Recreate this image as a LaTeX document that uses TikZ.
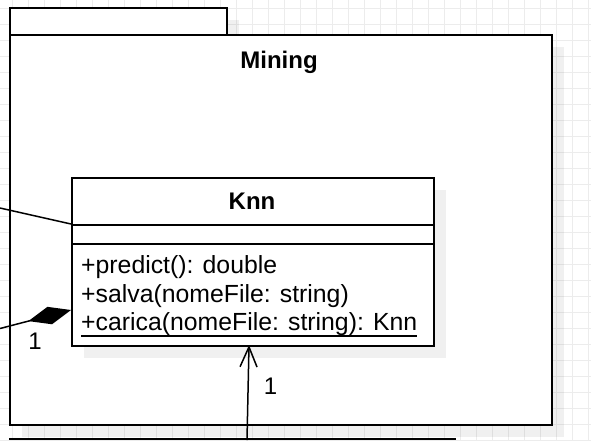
\documentclass[tikz,border=0pt]{standalone}
\usepackage{fontspec}
\setmainfont{Liberation Sans}
\usepackage{tikz}
\usetikzlibrary{arrows.meta}
\definecolor{gridgray}{RGB}{236, 236, 236}
\definecolor{shadowgray}{RGB}{240, 240, 240}

\begin{document}
\begin{tikzpicture}[x=1pt, y=-1pt,
    gridline/.style={gridgray, line width=1pt},
    umlshadow/.style={fill=black, fill opacity=0.06, draw=none},
    umlbox/.style={draw=black, fill=white, line width=1.8pt, inner sep=0pt, anchor=north west},
    umlline/.style={black, line width=1.5pt},
    plaintext/.style={inner sep=0pt, anchor=base west, font=\fontsize{24.8}{29}\selectfont},
    multtext/.style={inner sep=0pt, anchor=base, font=\fontsize{24}{28}\selectfont},
    titletext/.style={inner sep=0pt, anchor=base, font=\fontsize{24}{28}\selectfont\bfseries}]
            \useasboundingbox[fill=white] (0,0) rectangle (591,440);
            % background grid
            \foreach \i in {0,...,36}
                \draw[gridline] ({12.7+16*\i},0) -- ++(0,440);
            \foreach \j in {0,...,27}
                \draw[gridline] (0,{8.3+16*\j}) -- ++(591,0);
            % package Mining
            \fill[umlshadow] (22,20) rectangle (239,47);
            \fill[umlshadow] (22,47) rectangle (564,437);
            \node[umlbox, minimum width=217pt, minimum height=27pt] (miningTab) at (9,7) {};
            \node[umlbox, minimum width=542pt, minimum height=390pt] (mining) at (9,34) {};
            \node[titletext] (miningName) at (279,68) {Mining};
            % class Knn
            \fill[umlshadow] (84,190) rectangle (446,358);
            \node[umlbox, minimum width=362pt, minimum height=168pt] (knn) at (71,177) {};
            \draw[umlbox] (knn.west |- 0,225) -- (knn.east |- 0,225);
            \draw[umlbox] (knn.west |- 0,244) -- (knn.east |- 0,244);
            \node[titletext] (knnName) at (252,209) {Knn};
            \node[plaintext] (predict) at (81,273) {+predict(): double};
            \node[plaintext] (salva) at (81,302) {+salva(nomeFile: string)};
            \node[plaintext] (carica) at (81,330) {+carica(nomeFile: string): Knn};
            \draw[black, line width=1.2pt] ([yshift=-6pt]carica.base west) -- ([yshift=-6pt]carica.base east);
            % box below, cut off
            \draw[umlline] (9,439) -- (456,439);
            % connectors
            \coordinate (assocEnd) at (0,208);
            \coordinate (knnAssoc) at (knn.west |- 0,224);
            \coordinate (partEnd) at (0,328.5);
            \coordinate (knnPart) at (knn.west |- 0,310);
            \coordinate (useEnd) at (247,440);
            \coordinate (knnUse) at (249,345);
            \draw[umlline] (assocEnd) -- (knnAssoc);
            \draw[umlline, -{Diamond[length=44pt, width=18pt]}] (partEnd) -- (knnPart);
            \draw[umlline, -{Straight Barb[length=20pt, width=17pt]}] (useEnd) -- (knnUse);
            \node[multtext] (partMult) at (35,349) {1};
            \node[multtext] (useMult) at (270.5,394) {1};
        \end{tikzpicture}
\end{document}
